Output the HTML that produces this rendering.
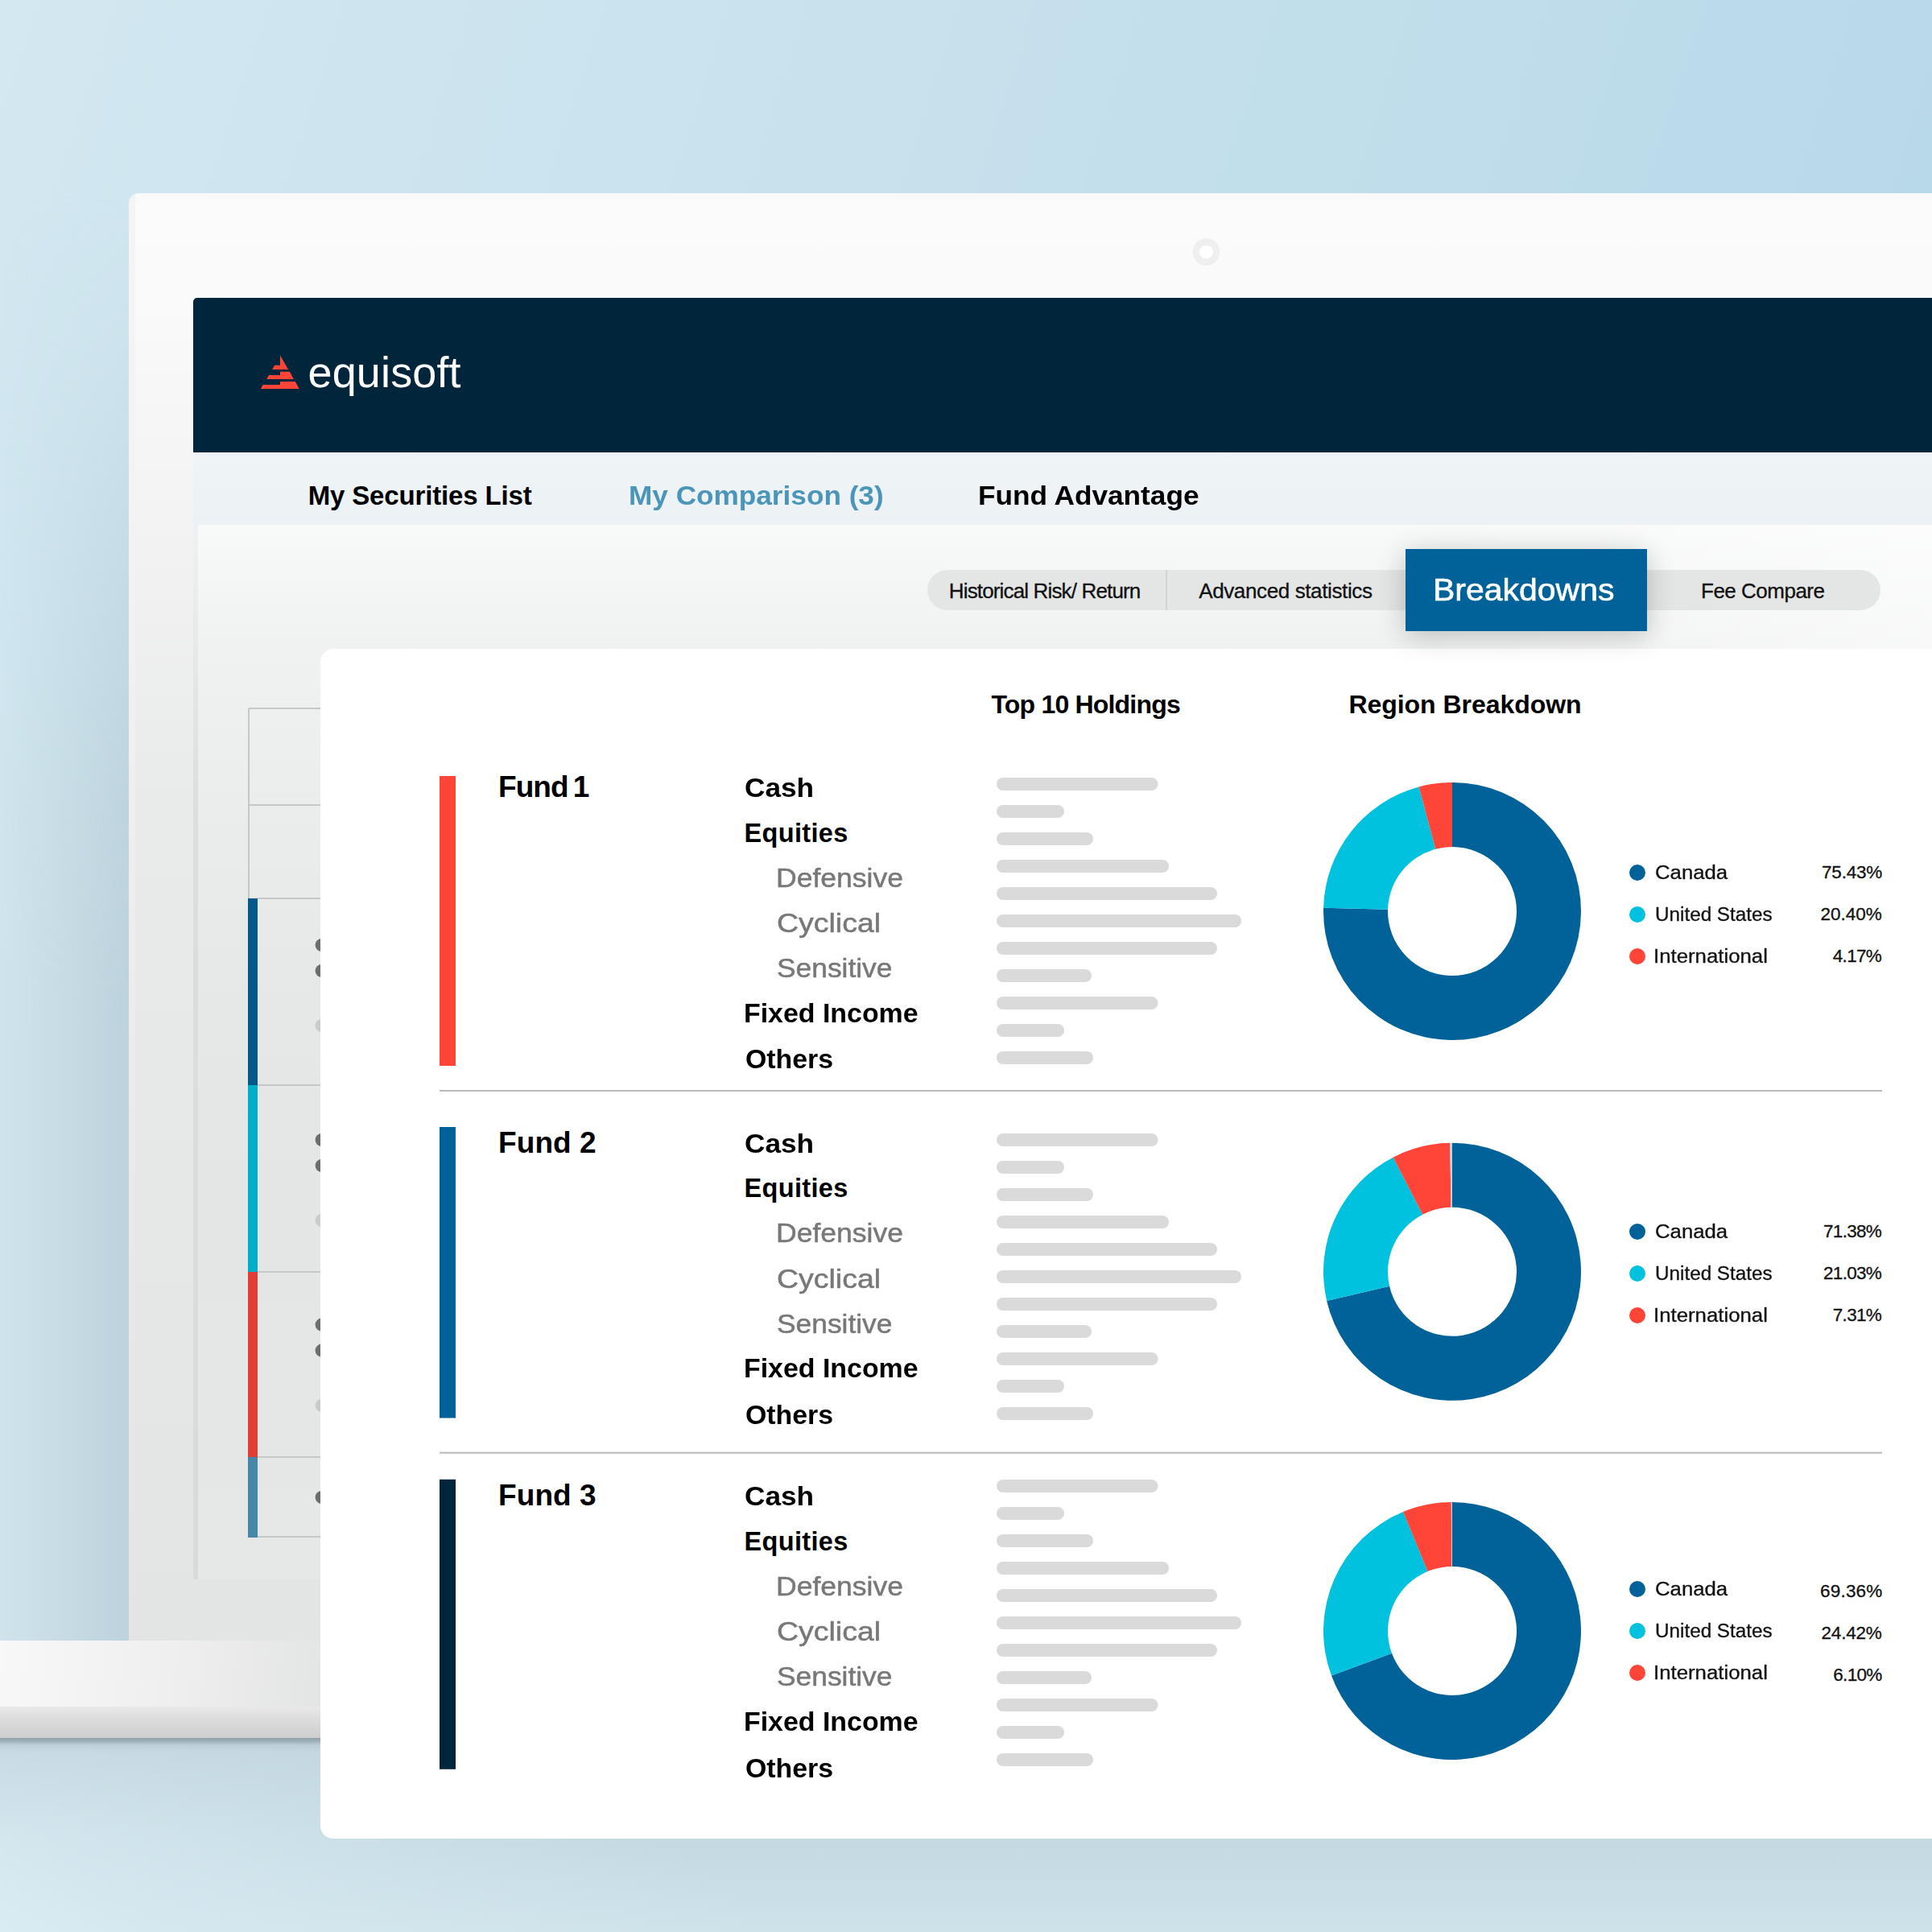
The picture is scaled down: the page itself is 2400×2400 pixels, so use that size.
<!DOCTYPE html>
<html lang="en"><head><meta charset="utf-8"><title>Equisoft – Fund comparison breakdowns</title>
<style>
html,body{margin:0;padding:0;width:2400px;height:2400px;overflow:hidden;background:#c5e0ec}
#root{position:relative;width:2400px;height:2400px;overflow:hidden;font-family:"Liberation Sans",sans-serif;
 background:linear-gradient(108deg,#d3e8f1 0%,#c5e0ec 42%,#b1d5e8 100%);}
.abs{position:absolute}
.t{position:absolute;white-space:pre;line-height:1em;transform-origin:0 0}
#floor{display:none}
#floor2{left:0;top:2160px;width:2400px;height:240px;background:linear-gradient(32deg,rgba(217,236,244,1) 0%,rgba(214,233,241,.8) 8%,rgba(212,231,239,0) 36%),linear-gradient(180deg,#c3d8e1 0,#c4d9e2 130px,#cee2ea 240px)}
#lshadow{left:0;top:240px;width:160px;height:1798px;background:linear-gradient(90deg,rgba(189,211,220,0) 0%,rgba(189,211,220,.5) 50%,rgba(188,210,220,1) 100%);-webkit-mask-image:linear-gradient(180deg,rgba(0,0,0,0) 0,rgba(0,0,0,.15) 200px,rgba(0,0,0,.9) 760px,rgba(0,0,0,1) 1000px);mask-image:linear-gradient(180deg,rgba(0,0,0,0) 0,rgba(0,0,0,.15) 200px,rgba(0,0,0,.9) 760px,rgba(0,0,0,1) 1000px)}
#lbase{left:0;top:800px;width:160px;height:1238px;background:linear-gradient(180deg,rgba(208,228,236,0) 0,rgba(208,228,236,1) 500px)}
#lid{left:160px;top:240px;width:2300px;height:1798px;border-radius:12px 0 0 0;background:linear-gradient(180deg,#f4f4f4 0,#f3f3f3 360px,#efefef 760px,#e9e9e9 1260px,#e4e4e4 1798px) 0 0/8px 100% no-repeat,#f9f9f9}
#lidin{left:168px;top:248px;width:2300px;height:1790px;border-radius:14px 0 0 0;background:linear-gradient(180deg,#fbfbfb 0,#fafafa 122px,#f4f4f4 352px,#e9eaea 752px,#e6e7e7 1252px,#e3e4e4 1790px)}
#cam{left:1481.8px;top:296.3px;width:33.4px;height:33.4px;border-radius:50%;background:#efefef}
#cam i{position:absolute;left:8.5px;top:8.5px;width:16.4px;height:16.4px;border-radius:50%;background:#fff}
#screen{left:240px;top:370px;width:2200px;height:1592px;border-radius:5px 0 0 0;overflow:hidden;background:linear-gradient(180deg,#eef0f1 290px,#dcdddd 640px,#d9dada 100%)}
#hdr{left:0;top:0;width:2200px;height:192px;background:#01263b}
#nav{left:0;top:192px;width:2200px;height:98px;background:linear-gradient(180deg,#eff4f7,#ecf1f5)}
#content{left:6px;top:282px;width:2200px;height:1310px;background:linear-gradient(90deg,rgba(255,255,255,0) 1500px,rgba(255,255,255,.55) 2154px),linear-gradient(180deg,#f8f9f9 0,#f0f1f1 150px,#ebecec 350px,#e6e7e7 600px,#e4e5e5 850px,#e6e7e7 100%)}
#pill{left:1152px;top:708px;width:1184px;height:50px;border-radius:25px;background:#e4e6e6}
#sep{left:1448px;top:708px;width:2px;height:50px;background:#d2d4d4}
#bd{left:1746px;top:682px;width:300px;height:102px;background:#006298;box-shadow:0 6px 34px rgba(0,0,0,.22)}
#base1{left:0;top:2038px;width:420px;height:83px;background:linear-gradient(100deg,#f8f8f8 0%,#efefef 50%,#e2e3e3 100%)}
#base2{left:0;top:2120px;width:420px;height:40px;background:linear-gradient(180deg,#e9e9e9 0%,#d9d9d9 50%,#cdcdcd 100%)}
#base3{left:0;top:2159px;width:420px;height:120px;background:linear-gradient(180deg,rgba(140,158,168,.95) 0,rgba(150,168,178,.85) 4px,rgba(180,199,208,.6) 9px,rgba(190,208,217,.4) 18px,rgba(192,211,220,.3) 50px,rgba(192,211,220,0) 120px)}
#card{left:398px;top:806px;width:2100px;height:1478px;border-radius:16px;background:#fff}
</style></head><body><div id="root">
<div class="abs" id="floor"></div><div class="abs" id="floor2"></div>
<div class="abs" id="lbase"></div><div class="abs" id="lshadow"></div>
<div class="abs" id="lid"></div>
<div class="abs" id="lidin"></div>
<div class="abs" id="cam"><i></i></div>
<div class="abs" id="screen">
 <div class="abs" id="hdr"></div>
 <div class="abs" id="nav"></div>
 <div class="abs" id="content"></div>
 <svg class="abs" style="left:0;top:0" width="2200" height="1592" viewBox="240 370 2200 1592">
  <g fill="none" stroke="#c6c7c7" stroke-width="2"><path d="M309 880H400M309 880V1116M309 1000H400M320 1116H400M320 1348H400M320 1580H400M320 1810H400M320 1909H400"/></g>
  <rect x="308" y="1116" width="12" height="232" fill="#05588a"/>
  <rect x="308" y="1348" width="12" height="232" fill="#00aec9"/>
  <rect x="308" y="1580" width="12" height="230" fill="#e13e36"/>
  <rect x="308" y="1810" width="12" height="100" fill="#4788a8"/>
  <g fill="#6b6e6e"><circle cx="399.6" cy="1174" r="8"/><circle cx="399.6" cy="1206" r="8"/><circle cx="399.6" cy="1416" r="8"/><circle cx="399.6" cy="1448" r="8"/><circle cx="399.6" cy="1645.6" r="8"/><circle cx="399.6" cy="1677.6" r="8"/><circle cx="399.6" cy="1860" r="8"/></g>
  <g fill="#c9caca"><circle cx="399.6" cy="1274" r="8"/><circle cx="399.6" cy="1516" r="8"/><circle cx="399.6" cy="1746" r="8"/></g>
 </svg>
</div>
<svg class="abs" style="left:0;top:0" width="2400" height="600" viewBox="0 0 2400 600"><g fill="#ff4438">
 <path d="M348 441.5L358.1 459H338.1L341.1 453.8H347.9Z"/>
 <path d="M348 461.8H359.9L364.8 471.1H331.2L334.1 465.9H348Z"/>
 <path d="M348 473.9H366.7L371.7 483H323.9L326.7 478.1H348Z"/>
</g></svg>
<div class="abs" id="base1"></div><div class="abs" id="base2"></div><div class="abs" id="base3"></div>
<div class="abs" id="card"></div>
<div class="abs" id="pill"></div><div class="abs" id="sep"></div><div class="abs" id="bd"></div>
<svg class="abs" style="left:0;top:0" width="2400" height="2400" viewBox="0 0 2400 2400"><path d="M1804.00 972.00A160 160 0 1 1 1644.06 1127.68L1724.03 1129.84A80 80 0 1 0 1804.00 1052.00Z" fill="#006298"/><path d="M1644.06 1127.68A160 160 0 0 1 1762.56 977.46L1783.28 1054.73A80 80 0 0 0 1724.03 1129.84Z" fill="#00c1de"/><path d="M1762.56 977.46A160 160 0 0 1 1804.00 972.00L1804.00 1052.00A80 80 0 0 0 1783.28 1054.73Z" fill="#ff4438"/><path d="M1804.00 1419.80A160 160 0 1 1 1648.12 1615.88L1726.06 1597.84A80 80 0 1 0 1804.00 1499.80Z" fill="#006298"/><path d="M1648.12 1615.88A160 160 0 0 1 1730.56 1437.65L1767.28 1508.73A80 80 0 0 0 1726.06 1597.84Z" fill="#00c1de"/><path d="M1730.56 1437.65A160 160 0 0 1 1801.19 1419.82L1802.59 1499.81A80 80 0 0 0 1767.28 1508.73Z" fill="#ff4438"/><path d="M1801.19 1419.82A160 160 0 0 1 1804.00 1419.80L1804.00 1499.80A80 80 0 0 0 1802.59 1499.81Z" fill="#b9d3e0"/><path d="M1804.00 1866.00A160 160 0 1 1 1653.94 2081.52L1728.97 2053.76A80 80 0 1 0 1804.00 1946.00Z" fill="#006298"/><path d="M1653.94 2081.52A160 160 0 0 1 1743.05 1878.06L1773.52 1952.03A80 80 0 0 0 1728.97 2053.76Z" fill="#00c1de"/><path d="M1743.05 1878.06A160 160 0 0 1 1802.79 1866.00L1803.40 1946.00A80 80 0 0 0 1773.52 1952.03Z" fill="#ff4438"/><path d="M1802.79 1866.00A160 160 0 0 1 1804.00 1866.00L1804.00 1946.00A80 80 0 0 0 1803.40 1946.00Z" fill="#b9d3e0"/><circle cx="2034" cy="1084" r="10" fill="#006298"/><circle cx="2034" cy="1136" r="10" fill="#00c1de"/><circle cx="2034" cy="1188" r="10" fill="#ff4438"/><circle cx="2034" cy="1530" r="10" fill="#006298"/><circle cx="2034" cy="1582" r="10" fill="#00c1de"/><circle cx="2034" cy="1634" r="10" fill="#ff4438"/><circle cx="2034" cy="1974" r="10" fill="#006298"/><circle cx="2034" cy="2026" r="10" fill="#00c1de"/><circle cx="2034" cy="2078" r="10" fill="#ff4438"/><rect x="1238" y="966" width="200.5" height="16" rx="8" fill="#dadada"/><rect x="1238" y="1000" width="84" height="16" rx="8" fill="#dadada"/><rect x="1238" y="1034" width="120" height="16" rx="8" fill="#dadada"/><rect x="1238" y="1068" width="214" height="16" rx="8" fill="#dadada"/><rect x="1238" y="1102" width="274" height="16" rx="8" fill="#dadada"/><rect x="1238" y="1136" width="304" height="16" rx="8" fill="#dadada"/><rect x="1238" y="1170" width="274" height="16" rx="8" fill="#dadada"/><rect x="1238" y="1204" width="118" height="16" rx="8" fill="#dadada"/><rect x="1238" y="1238" width="200.5" height="16" rx="8" fill="#dadada"/><rect x="1238" y="1272" width="84" height="16" rx="8" fill="#dadada"/><rect x="1238" y="1306" width="120" height="16" rx="8" fill="#dadada"/><rect x="1238" y="1408" width="200.5" height="16" rx="8" fill="#dadada"/><rect x="1238" y="1442" width="84" height="16" rx="8" fill="#dadada"/><rect x="1238" y="1476" width="120" height="16" rx="8" fill="#dadada"/><rect x="1238" y="1510" width="214" height="16" rx="8" fill="#dadada"/><rect x="1238" y="1544" width="274" height="16" rx="8" fill="#dadada"/><rect x="1238" y="1578" width="304" height="16" rx="8" fill="#dadada"/><rect x="1238" y="1612" width="274" height="16" rx="8" fill="#dadada"/><rect x="1238" y="1646" width="118" height="16" rx="8" fill="#dadada"/><rect x="1238" y="1680" width="200.5" height="16" rx="8" fill="#dadada"/><rect x="1238" y="1714" width="84" height="16" rx="8" fill="#dadada"/><rect x="1238" y="1748" width="120" height="16" rx="8" fill="#dadada"/><rect x="1238" y="1838" width="200.5" height="16" rx="8" fill="#dadada"/><rect x="1238" y="1872" width="84" height="16" rx="8" fill="#dadada"/><rect x="1238" y="1906" width="120" height="16" rx="8" fill="#dadada"/><rect x="1238" y="1940" width="214" height="16" rx="8" fill="#dadada"/><rect x="1238" y="1974" width="274" height="16" rx="8" fill="#dadada"/><rect x="1238" y="2008" width="304" height="16" rx="8" fill="#dadada"/><rect x="1238" y="2042" width="274" height="16" rx="8" fill="#dadada"/><rect x="1238" y="2076" width="118" height="16" rx="8" fill="#dadada"/><rect x="1238" y="2110" width="200.5" height="16" rx="8" fill="#dadada"/><rect x="1238" y="2144" width="84" height="16" rx="8" fill="#dadada"/><rect x="1238" y="2178" width="120" height="16" rx="8" fill="#dadada"/><rect x="546" y="964" width="20" height="360" fill="#ff4438"/><rect x="546" y="1400" width="20" height="361.5" fill="#006298"/><rect x="546" y="1837.8" width="20" height="360" fill="#01263b"/><rect x="546" y="1354" width="1792" height="2" fill="#b9b9b9"/><rect x="546" y="1803.7" width="1792" height="2" fill="#b9b9b9"/></svg>
<div class="t" style="left:382.5px;top:435.3px;font-size:54px;font-weight:400;color:#fff;letter-spacing:0.14px;">equisoft</div>
<div class="t" style="left:382.7px;top:599.1px;font-size:33px;font-weight:700;color:#000;letter-spacing:-0.15px;">My Securities List</div>
<div class="t" style="left:780.5px;top:599.1px;font-size:33px;font-weight:700;color:#4b95b9;transform:scaleX(1.0660);">My Comparison (3)</div>
<div class="t" style="left:1215.4px;top:599.1px;font-size:33px;font-weight:700;color:#000;transform:scaleX(1.0669);">Fund Advantage</div>
<div class="t" style="left:1178.8px;top:720.8px;font-size:26px;font-weight:400;color:#111;letter-spacing:-0.85px;-webkit-text-stroke:0.3px #111;">Historical Risk/ Return</div>
<div class="t" style="left:1489.2px;top:720.8px;font-size:26px;font-weight:400;color:#111;letter-spacing:-0.38px;-webkit-text-stroke:0.3px #111;">Advanced statistics</div>
<div class="t" style="left:1779.8px;top:713.5px;font-size:38px;font-weight:400;color:#fff;transform:scaleX(1.0780);-webkit-text-stroke:0.6px #fff;">Breakdowns</div>
<div class="t" style="left:2113.0px;top:720.5px;font-size:26px;font-weight:400;color:#111;letter-spacing:-0.50px;-webkit-text-stroke:0.3px #111;">Fee Compare</div>
<div class="t" style="left:1231.5px;top:859.2px;font-size:32px;font-weight:700;color:#000;letter-spacing:-0.81px;">Top 10 Holdings</div>
<div class="t" style="left:1675.4px;top:859.2px;font-size:32px;font-weight:700;color:#000;letter-spacing:-0.04px;">Region Breakdown</div>
<div class="t" style="left:619.1px;top:959.2px;font-size:37px;font-weight:700;color:#000;letter-spacing:-1.00px;word-spacing:-3px;">Fund 1</div>
<div class="t" style="left:925.4px;top:962.5px;font-size:32.5px;font-weight:700;color:#000;transform:scaleX(1.0831);">Cash</div>
<div class="t" style="left:924.5px;top:1018.7px;font-size:32.5px;font-weight:700;color:#000;letter-spacing:0.34px;">Equities</div>
<div class="t" style="left:963.6px;top:1073.6px;font-size:33.5px;font-weight:400;color:#787878;transform:scaleX(1.0610);-webkit-text-stroke:0.5px #787878;">Defensive</div>
<div class="t" style="left:964.6px;top:1129.7px;font-size:33.5px;font-weight:400;color:#787878;transform:scaleX(1.1186);-webkit-text-stroke:0.5px #787878;">Cyclical</div>
<div class="t" style="left:964.6px;top:1185.9px;font-size:33.5px;font-weight:400;color:#787878;transform:scaleX(1.0552);-webkit-text-stroke:0.5px #787878;">Sensitive</div>
<div class="t" style="left:924.4px;top:1242.5px;font-size:32.5px;font-weight:700;color:#000;transform:scaleX(1.0429);">Fixed Income</div>
<div class="t" style="left:925.5px;top:1300.2px;font-size:32.5px;font-weight:700;color:#000;transform:scaleX(1.0417);">Others</div>
<div class="t" style="left:619.1px;top:1401.2px;font-size:37px;font-weight:700;color:#000;letter-spacing:0.04px;">Fund 2</div>
<div class="t" style="left:925.4px;top:1405.0px;font-size:32.5px;font-weight:700;color:#000;transform:scaleX(1.0831);">Cash</div>
<div class="t" style="left:924.5px;top:1460.1px;font-size:32.5px;font-weight:700;color:#000;letter-spacing:0.34px;">Equities</div>
<div class="t" style="left:963.6px;top:1515.4px;font-size:33.5px;font-weight:400;color:#787878;transform:scaleX(1.0610);-webkit-text-stroke:0.5px #787878;">Defensive</div>
<div class="t" style="left:964.6px;top:1571.6px;font-size:33.5px;font-weight:400;color:#787878;transform:scaleX(1.1186);-webkit-text-stroke:0.5px #787878;">Cyclical</div>
<div class="t" style="left:964.6px;top:1627.6px;font-size:33.5px;font-weight:400;color:#787878;transform:scaleX(1.0552);-webkit-text-stroke:0.5px #787878;">Sensitive</div>
<div class="t" style="left:924.4px;top:1684.0px;font-size:32.5px;font-weight:700;color:#000;transform:scaleX(1.0429);">Fixed Income</div>
<div class="t" style="left:925.5px;top:1742.0px;font-size:32.5px;font-weight:700;color:#000;transform:scaleX(1.0417);">Others</div>
<div class="t" style="left:619.1px;top:1839.0px;font-size:37px;font-weight:700;color:#000;letter-spacing:0.04px;">Fund 3</div>
<div class="t" style="left:925.4px;top:1842.8px;font-size:32.5px;font-weight:700;color:#000;transform:scaleX(1.0831);">Cash</div>
<div class="t" style="left:924.5px;top:1898.9px;font-size:32.5px;font-weight:700;color:#000;letter-spacing:0.34px;">Equities</div>
<div class="t" style="left:963.6px;top:1953.8px;font-size:33.5px;font-weight:400;color:#787878;transform:scaleX(1.0610);-webkit-text-stroke:0.5px #787878;">Defensive</div>
<div class="t" style="left:964.6px;top:2010.0px;font-size:33.5px;font-weight:400;color:#787878;transform:scaleX(1.1186);-webkit-text-stroke:0.5px #787878;">Cyclical</div>
<div class="t" style="left:964.6px;top:2066.2px;font-size:33.5px;font-weight:400;color:#787878;transform:scaleX(1.0552);-webkit-text-stroke:0.5px #787878;">Sensitive</div>
<div class="t" style="left:924.4px;top:2122.9px;font-size:32.5px;font-weight:700;color:#000;transform:scaleX(1.0429);">Fixed Income</div>
<div class="t" style="left:925.5px;top:2180.8px;font-size:32.5px;font-weight:700;color:#000;transform:scaleX(1.0417);">Others</div>
<div class="t" style="left:2055.5px;top:1072.9px;font-size:23px;font-weight:400;color:#111;transform:scaleX(1.1187);-webkit-text-stroke:0.3px #111;">Canada</div>
<div class="t" style="left:2055.5px;top:1124.9px;font-size:23px;font-weight:400;color:#111;transform:scaleX(1.0547);-webkit-text-stroke:0.3px #111;">United States</div>
<div class="t" style="left:2054.4px;top:1176.9px;font-size:23px;font-weight:400;color:#111;transform:scaleX(1.1210);-webkit-text-stroke:0.3px #111;">International</div>
<div class="t" style="left:2263.0px;top:1073.4px;font-size:22.5px;font-weight:400;color:#111;letter-spacing:-0.20px;-webkit-text-stroke:0.3px #111;">75.43%</div>
<div class="t" style="left:2261.5px;top:1125.4px;font-size:22.5px;font-weight:400;color:#111;-webkit-text-stroke:0.3px #111;">20.40%</div>
<div class="t" style="left:2276.8px;top:1177.4px;font-size:22.5px;font-weight:400;color:#111;letter-spacing:-0.70px;-webkit-text-stroke:0.3px #111;">4.17%</div>
<div class="t" style="left:2055.5px;top:1518.8px;font-size:23px;font-weight:400;color:#111;transform:scaleX(1.1187);-webkit-text-stroke:0.3px #111;">Canada</div>
<div class="t" style="left:2055.5px;top:1570.8px;font-size:23px;font-weight:400;color:#111;transform:scaleX(1.0547);-webkit-text-stroke:0.3px #111;">United States</div>
<div class="t" style="left:2054.4px;top:1622.8px;font-size:23px;font-weight:400;color:#111;transform:scaleX(1.1210);-webkit-text-stroke:0.3px #111;">International</div>
<div class="t" style="left:2265.0px;top:1519.3px;font-size:22.5px;font-weight:400;color:#111;letter-spacing:-0.70px;-webkit-text-stroke:0.3px #111;">71.38%</div>
<div class="t" style="left:2265.0px;top:1571.3px;font-size:22.5px;font-weight:400;color:#111;letter-spacing:-0.70px;-webkit-text-stroke:0.3px #111;">21.03%</div>
<div class="t" style="left:2276.8px;top:1623.3px;font-size:22.5px;font-weight:400;color:#111;letter-spacing:-0.70px;-webkit-text-stroke:0.3px #111;">7.31%</div>
<div class="t" style="left:2055.5px;top:1962.8px;font-size:23px;font-weight:400;color:#111;transform:scaleX(1.1187);-webkit-text-stroke:0.3px #111;">Canada</div>
<div class="t" style="left:2055.5px;top:2014.8px;font-size:23px;font-weight:400;color:#111;transform:scaleX(1.0547);-webkit-text-stroke:0.3px #111;">United States</div>
<div class="t" style="left:2054.4px;top:2066.8px;font-size:23px;font-weight:400;color:#111;transform:scaleX(1.1210);-webkit-text-stroke:0.3px #111;">International</div>
<div class="t" style="left:2261.0px;top:1965.8px;font-size:22.5px;font-weight:400;color:#111;letter-spacing:0.20px;-webkit-text-stroke:0.3px #111;">69.36%</div>
<div class="t" style="left:2262.5px;top:2017.8px;font-size:22.5px;font-weight:400;color:#111;letter-spacing:-0.20px;-webkit-text-stroke:0.3px #111;">24.42%</div>
<div class="t" style="left:2277.3px;top:2069.8px;font-size:22.5px;font-weight:400;color:#111;letter-spacing:-0.70px;-webkit-text-stroke:0.3px #111;">6.10%</div>
</div></body></html>
